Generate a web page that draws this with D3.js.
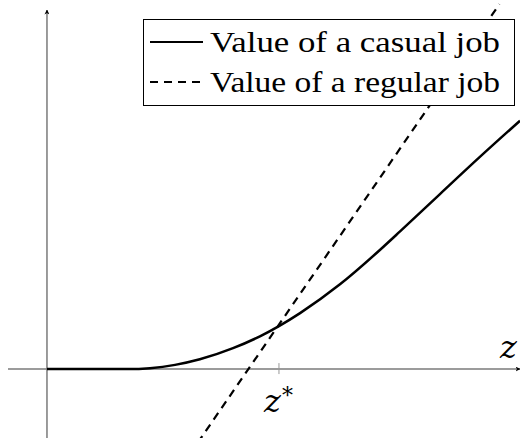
<!DOCTYPE html>
<html>
<head>
<meta charset="utf-8">
<script src="https://cdn.jsdelivr.net/npm/d3@7"></script>
<style>
  body { margin: 0; background: #fff; }
  svg { display: block; }
</style>
</head>
<body>
<div id="chart"></div>
<script>
// values (arbitrary units, z* = 10)
var casualZ = [0, 3.49, 4.44, 5.52, 6.59, 8.02, 9.18, 10, 10.91, 12.63, 14.35, 15.22, 16.94, 18.66, 20.39];
var casualV = [0, 0, 0.04, 0.18, 0.42, 0.9, 1.41, 1.85, 2.41, 3.65, 5.13, 5.93, 7.54, 9.14, 10.7];
var regularZ = [6.5, 19.5];
var regularV = [-3.17, 15.72];
var zStar = 10;
var legendNames = ['Value of a casual job', 'Value of a regular job'];

create_chart();
function create_chart(){
    var width = 520, height = 438;

    var x = d3.scaleLinear().domain([-1.68, 20.39]).range([8, 520]);
    var y = d3.scaleLinear().domain([-2.97, 15.47]).range([438, 10]);

    var svg = d3.select('#chart')
      .append('svg')
      .attr('width', width)
      .attr('height', height);

    var defs = svg.append('defs');
    defs.append('marker')
        .attr('id', 'arrow')
        .attr('viewBox', '0 0 10 10')
        .attr('refX', 9).attr('refY', 5)
        .attr('markerWidth', 5).attr('markerHeight', 5)
        .attr('markerUnits', 'userSpaceOnUse')
        .attr('orient', 'auto')
        .append('path')
        .attr('d', 'M0,0 L10,5 L0,10 L3,5 Z')
        .attr('fill', '#000');

    // axes
    var axisColor = '#7a7a7a';
    svg.append('line')
        .attr('x1', x(-1.68)).attr('x2', x(20.39))
        .attr('y1', y(0)).attr('y2', y(0))
        .attr('stroke', axisColor).attr('stroke-width', 1.5)
        .attr('marker-end', 'url(#arrow)');
    svg.append('line')
        .attr('x1', x(0)).attr('x2', x(0))
        .attr('y1', y(-2.97)).attr('y2', y(15.47))
        .attr('stroke', axisColor).attr('stroke-width', 1.5)
        .attr('marker-end', 'url(#arrow)');

    // tick at z*
    svg.append('line')
        .attr('x1', x(zStar)).attr('x2', x(zStar))
        .attr('y1', y(0) - 6).attr('y2', y(0) + 5)
        .attr('stroke', '#999').attr('stroke-width', 1);

    var line = d3.line()
        .x(function(d){ return x(d[0]); })
        .y(function(d){ return y(d[1]); });

    // regular job (dashed)
    var regular = regularZ.map(function(z, i){ return [z, regularV[i]]; });
    svg.append('path')
        .datum(regular)
        .attr('d', line)
        .attr('fill', 'none')
        .attr('stroke', '#000')
        .attr('stroke-width', 2.2)
        .attr('stroke-dasharray', '8,6');

    // casual job (solid)
    var casual = casualZ.map(function(z, i){ return [z, casualV[i]]; });
    svg.append('path')
        .datum(casual)
        .attr('d', line.curve(d3.curveMonotoneX))
        .attr('fill', 'none')
        .attr('stroke', '#000')
        .attr('stroke-width', 2.5);

    // labels
    var mathFont = '"DejaVu Serif", serif';
    var textFont = '"Liberation Serif", "DejaVu Serif", serif';
    svg.append('text')
        .attr('x', 500).attr('y', 358)
        .attr('font-family', mathFont).attr('font-style', 'italic')
        .attr('font-size', 32)
        .text('z');
    svg.append('text')
        .attr('x', 264).attr('y', 412)
        .attr('font-family', mathFont).attr('font-style', 'italic')
        .attr('font-size', 32)
        .text('z');
    svg.append('text')
        .attr('x', 282).attr('y', 403)
        .attr('font-family', mathFont)
        .attr('font-size', 22)
        .text('*');

    // legend
    var legend = svg.append('g');
    legend.append('rect')
        .attr('x', 143.5).attr('y', 19.5)
        .attr('width', 371).attr('height', 86)
        .attr('fill', '#fff')
        .attr('stroke', '#000').attr('stroke-width', 1);
    var rows = legend.selectAll('g.row')
        .data(legendNames)
        .enter()
        .append('g')
        .attr('class', 'row')
        .attr('transform', function(d, i){ return 'translate(0,' + (42 + i * 40) + ')'; });
    rows.append('line')
        .attr('x1', 150).attr('x2', 203)
        .attr('y1', 0).attr('y2', 0)
        .attr('stroke', '#000').attr('stroke-width', 2)
        .attr('stroke-dasharray', function(d, i){ return i == 1 ? '8,6' : null; });
    rows.append('text')
        .attr('x', 210).attr('y', 10)
        .attr('font-family', textFont)
        .attr('font-size', 30)
        .attr('textLength', 290)
        .attr('lengthAdjust', 'spacingAndGlyphs')
        .text(function(d){ return d; });
}
</script>
</body>
</html>
